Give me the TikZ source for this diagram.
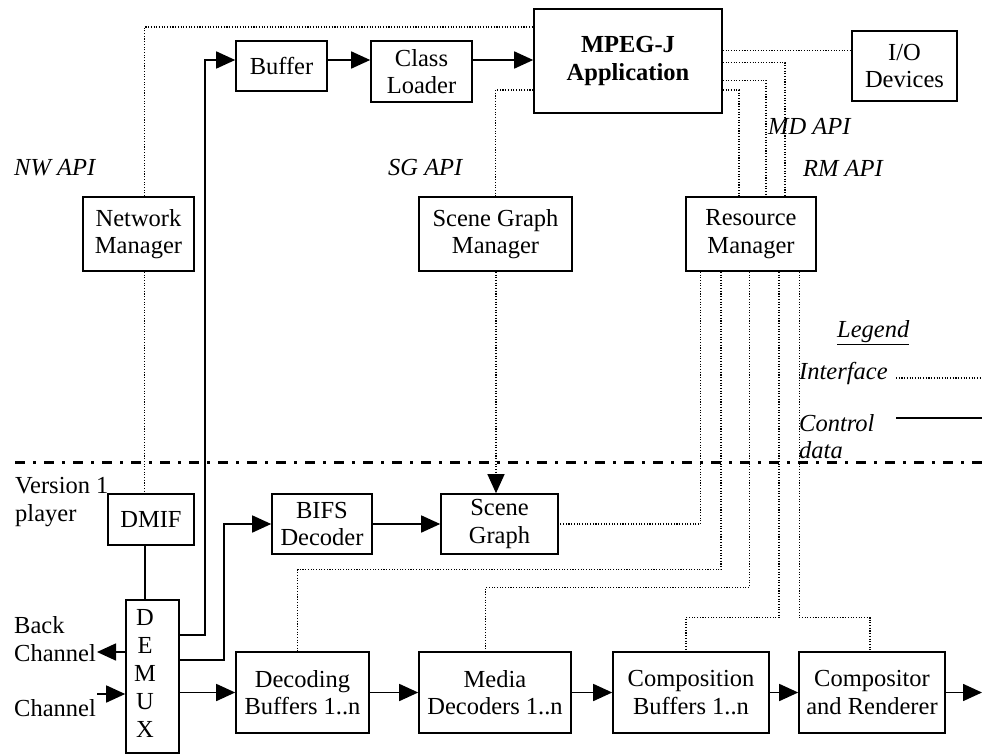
\documentclass[tikz,border=0pt]{standalone}
\usepackage{fontspec}
\setmainfont{Liberation Serif}
\usetikzlibrary{arrows.meta,calc}
\newcommand\fsz{\fontsize{24.5}{27.5}\selectfont}
\tikzset{
  box/.style={draw, line width=1.6pt, inner sep=0pt, align=center, font=\fsz},
  ctrl/.style={line width=1.6pt},
  iface/.style={line width=1.1pt, dash pattern=on 1.1pt off 1.6pt},
  arr/.style={-{Triangle[length=19pt,width=17pt]}},
  lbl/.style={font=\fsz\itshape, inner sep=0pt, anchor=west, align=left},
  txt/.style={font=\fsz, inner sep=0pt, anchor=west, align=left}
}
\begin{document}
\begin{tikzpicture}[x=1pt,y=-1pt]
\useasboundingbox (0,0) rectangle (982,754);

% boxes
\node[box, minimum width=111pt, minimum height=74pt] (nm) at (138.5,234) {Network\\Manager};
\node[box, minimum width=91pt, minimum height=50pt] (buf) at (281.5,66) {Buffer};
\node[box, minimum width=101pt, minimum height=61pt] (cl) at (421.5,71.5) {Class\\Loader};
\node[box, minimum width=188pt, minimum height=104pt] (mpj) at (628,61) {\bfseries MPEG-J\\\bfseries Application};
\node[box, minimum width=105pt, minimum height=70pt] (io) at (904.5,66) {I/O\\Devices};
\node[box, minimum width=153pt, minimum height=74pt] (sgm) at (495.5,234) {Scene Graph\\Manager};
\node[box, minimum width=130pt, minimum height=74pt] (rm) at (751,234) {Resource\\Manager};
\node[box, minimum width=86pt, minimum height=51pt] (dmif) at (151,519.5) {DMIF};
\node[box, minimum width=53pt, minimum height=153pt] (demux) at (152.5,676.5) {};
\node[font=\fontsize{24.5}{28}\selectfont, inner sep=0pt, align=center] (dmxt) at (145,673) {D\\E\\M\\U\\X};
\node[box, minimum width=100pt, minimum height=60pt] (bifs) at (322,524) {BIFS\\Decoder};
\node[box, minimum width=117pt, minimum height=60pt] (sg) at (499.5,524) {Scene\\Graph};
\node[box, minimum width=133pt, minimum height=81pt] (db) at (302.5,692.5) {Decoding\\Buffers 1..n};
\node[box, minimum width=152pt, minimum height=81pt] (md) at (495,692.5) {Media\\Decoders 1..n};
\node[box, minimum width=156pt, minimum height=81pt] (cb) at (691,692.5) {Composition\\Buffers 1..n};
\node[box, minimum width=146pt, minimum height=81pt] (cr) at (872,692.5) {Compositor\\and Renderer};

% labels
\node[lbl] (nwapi) at (14,168) {NW API};
\node[lbl] (sgapi) at (388,168) {SG API};
\node[lbl] (mdapi) at (768,126) {MD API};
\node[lbl] (rmapi) at (803,168) {RM API};
\node[lbl] (legend) at (837,333) {\underline{Legend}};
\node[lbl] (lint) at (799,373) {Interface};
\node[lbl] (lctl) at (799,436.5) {Control\\data};
\node[txt] (ver) at (15,502) {Version 1\\player};
\node[txt] (back) at (14,639) {Back\\Channel};
\node[txt] (chan) at (14,708) {Channel};

% separator
\draw[line width=2.5pt, dash pattern=on 10pt off 8pt on 2.5pt off 8.5pt] (15,462.3) -- (982,462.3);

% legend lines
\coordinate (li1) at (896,378);
\coordinate (li2) at (982,378);
\coordinate (lc1) at (896,418);
\coordinate (lc2) at (982,418);
\draw[iface] (li1) -- (li2);
\draw[ctrl] (lc1) -- (lc2);

% control data connectors
\draw[ctrl, arr] ($(buf.east)+(0,-6)$) -- ($(cl.west)+(0,-11.5)$);
\draw[ctrl, arr] ($(cl.east)+(0,-11.5)$) -- ($(mpj.west)+(0,-1)$);
\draw[ctrl, arr] ($(demux.east)+(0,-41.5)$) -- ++(25,0) |- ($(buf.west)+(0,-6)$);
\draw[ctrl, arr] ($(demux.east)+(0,-16.5)$) -- ++(44,0) |- (bifs.west);
\draw[ctrl, arr] (bifs.east) -- (sg.west);
\draw[ctrl] ($(dmif.south)+(-6,0)$) -- ($(demux.north)+(-7.5,0)$);
\coordinate (bc) at (97,652);
\coordinate (ch) at (97,694);
\coordinate (out) at (982,692.5);
\draw[ctrl, arr] (demux.west |- bc) -- (bc);
\draw[ctrl, arr] (ch) -- (ch -| demux.west);
\draw[ctrl, arr] (demux.east |- db.west) -- (db.west);
\draw[ctrl, arr] (db.east) -- (md.west);
\draw[ctrl, arr] (md.east) -- (cb.west);
\draw[ctrl, arr] (cb.east) -- (cr.west);
\draw[ctrl, arr] (cr.east) -- (out);

% interfaces
\draw[iface] ($(nm.north)+(6,0)$) |- ($(mpj.west)+(0,-34)$);
\draw[iface] ($(nm.south)+(6,0)$) -- ($(dmif.north)+(-6.5,0)$);
\draw[iface] ($(mpj.west)+(0,29)$) -| (sgm.north);
\draw[iface, arr] ($(sgm.south)+(0.5,0)$) -- ($(sg.north)+(-3.5,0)$);
\draw[iface] ($(mpj.east)+(0,-10.3)$) -- ($(io.west)+(0,-15.3)$);
\draw[iface] ($(mpj.east)+(0,1.7)$) -| ($(rm.north)+(34,0)$);
\draw[iface] ($(mpj.east)+(0,19.3)$) -| ($(rm.north)+(15,0)$);
\draw[iface] ($(mpj.east)+(0,29)$) -| ($(rm.north)+(-12,0)$);
\draw[iface] ($(rm.south)+(-50.3,0)$) |- (sg.east);
\draw[iface] ($(rm.south)+(-30,0)$) -- ++(0,298) -| ($(db.north)+(-4.8,0)$);
\draw[iface] ($(rm.south)+(-1.7,0)$) -- ++(0,315.7) -| ($(md.north)+(-9.3,0)$);
\draw[iface] ($(rm.south)+(28,0)$) -- ++(0,345.7) -| ($(cb.north)+(-5,0)$);
\draw[iface] ($(rm.south)+(48.3,0)$) -- ++(0,345.7) -| ($(cr.north)+(-2,0)$);
\end{tikzpicture}
\end{document}
